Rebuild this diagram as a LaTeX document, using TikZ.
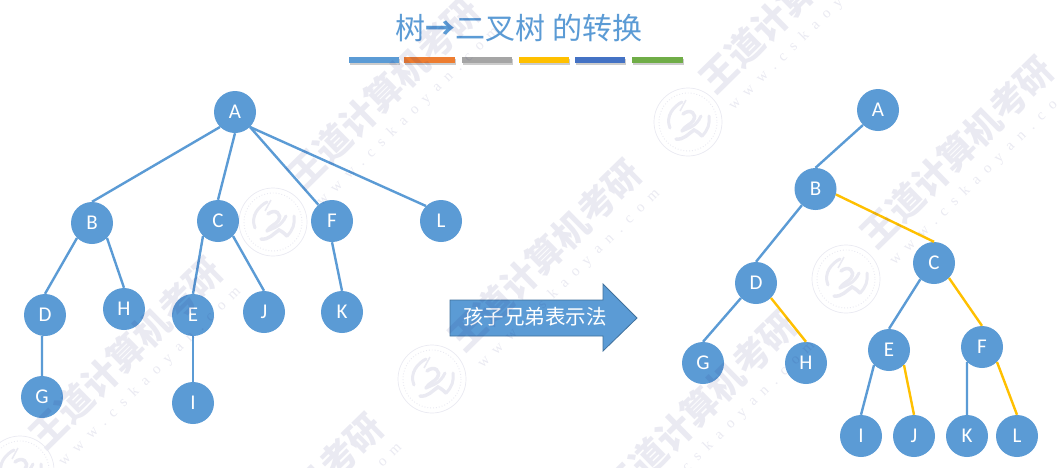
\documentclass[tikz,border=0pt]{standalone}
\usepackage{fontspec}
\setmainfont{Carlito}
\newfontfamily\cjk{Noto Sans CJK SC}
\newfontfamily\wmlat[LetterSpace=57]{Liberation Serif}
\definecolor{nodeblue}{HTML}{5B9BD5}
\definecolor{edgeorange}{HTML}{FFC000}
\definecolor{arrowline}{HTML}{41719C}
\definecolor{wmink}{RGB}{25,25,115}
\tikzset{
  vertex/.style={circle,fill=nodeblue,minimum size=42pt,inner sep=0pt,text=white,font=\fontsize{21}{24}\selectfont},
  kid/.style={draw=nodeblue,line width=2.4pt},
  sib/.style={draw=edgeorange,line width=2.4pt},
  wmband/.style={text=wmink,rotate=44.5,font=\cjk\bfseries\fontsize{36}{40}\selectfont,inner sep=0pt},
  wmurl/.style={text=wmink,rotate=44.5,font=\wmlat\fontsize{15}{17}\selectfont,inner sep=0pt},
}
\begin{document}
\begin{tikzpicture}[x=1pt,y=-1pt]
\fill[white] (0,0) rectangle (1057,467);
\useasboundingbox (0,0) rectangle (1057,467);
% title
\node[text=nodeblue,font=\cjk\fontsize{30}{34}\selectfont,inner sep=0pt] (title) at (519,28) {树{\bfseries →}二叉树 的转换};
% colour bars
\foreach \xa/\xb/\c in {349/399/5B9BD5,404/455/ED7D31,462/512/A5A5A5,519/569/FFC000,575/625/4472C4,632/683/70AD47}{
  \definecolor{barc}{HTML}{\c}
  \fill[black,opacity=.2] (\xa+1,59) rectangle (\xb+1,64.5);
  \fill[barc] (\xa,57) rectangle (\xb,62.5);
}
% left tree
\node[vertex] (A) at (235,112) {A};
\node[vertex] (B) at (92,223) {B};
\node[vertex] (C) at (218,221) {C};
\node[vertex] (F) at (332,221) {F};
\node[vertex] (L) at (441,221) {L};
\node[vertex] (D) at (45,315) {D};
\node[vertex] (H) at (124,309) {H};
\node[vertex] (E) at (193,315) {E};
\node[vertex] (J) at (264,312) {J};
\node[vertex] (K) at (342,312) {K};
\node[vertex] (G) at (42,397) {G};
\node[vertex] (I) at (193,403) {I};
\draw[kid] (A.225) -- (B.north);
\draw[kid] (A.south) -- (C.north);
\draw[kid] (A.315) -- (F.130);
\draw[kid] (A.315) -- (L.north west);
\draw[kid] (B.225) -- (D.north);
\draw[kid] (B.315) -- (H.north);
\draw[kid] (C.225) -- (E.north);
\draw[kid] (C.315) -- (J.north);
\draw[kid] (F.south) -- (K.north);
\draw[kid] (D.262) -- (G.north);
\draw[kid] (E.south) -- (I.north);
% arrow
\draw[fill=nodeblue,draw=arrowline,line width=.8pt] (450,300) -- (603,300) -- (603,284) -- (637,318) -- (603,351) -- (603,336) -- (450,336) -- cycle;
\node[text=white,font=\cjk\fontsize{20.5}{24}\selectfont,inner sep=0pt] (conv) at (535,317) {孩子兄弟表示法};
% right tree
\node[vertex] (rA) at (878,110) {A};
\node[vertex] (rB) at (815.5,189) {B};
\node[vertex] (rC) at (934,263) {C};
\node[vertex] (rD) at (756,283) {D};
\node[vertex] (rG) at (703,363) {G};
\node[vertex] (rH) at (806,363) {H};
\node[vertex] (rE) at (889,350) {E};
\node[vertex] (rF) at (982,347) {F};
\node[vertex] (rI) at (861,436) {I};
\node[vertex] (rJ) at (914,436) {J};
\node[vertex] (rK) at (967,436) {K};
\node[vertex] (rL) at (1017,436) {L};
\draw[kid] (rA.225) -- (rB.north);
\draw[kid] (rB.230) -- (rD.north);
\draw[kid] (rD.225) -- (rG.north);
\draw[kid] (rC.230) -- (rE.north);
\draw[kid] (rE.225) -- (rI.north);
\draw[kid] (rF.225) -- (rK.north);
\draw[sib] (rB.345) -- (rC.north);
\draw[sib] (rD.315) -- (rH.north);
\draw[sib] (rC.315) -- (rF.north);
\draw[sib] (rE.315) -- (rJ.north);
\draw[sib] (rF.315) -- (rL.north);
% watermark
\begin{scope}
\clip (0,0) rectangle (1057,467);
\begin{scope}[opacity=.09,transparency group]
\foreach \x/\y in {126/353,384/93,545/255,700/407,796/-3,957/152,287/509}{
  \node[wmband] at (\x,\y) {王道计算机考研};
  \node[wmurl] at (\x+24,\y+24) {www.cskaoyan.com};
}
\foreach \x/\y in {273/222,432/379,688/122,846/279,20/470}{
  \begin{scope}[shift={(\x,\y)}]
    \draw[wmink,line width=.7pt] (0,0) circle (34);
    \draw[wmink,line width=.9pt,dotted] (0,0) circle (29);
    \draw[wmink,line width=3pt,line cap=round] (-18,6) .. controls (-23,-6) and (-14,-16) .. (-6,-20);
    \draw[wmink,line width=3pt,line cap=round] (21,-6) .. controls (22,2) and (20,8) .. (14,14);
    \draw[wmink,line width=3.5pt,line cap=round] (-12,17) .. controls (-4,18) and (0,12) .. (6,8) .. controls (10,10) and (12,12) .. (14,14);
    \draw[wmink,line width=3.5pt,line cap=round] (-5,-8) .. controls (2,-14) and (10,-8) .. (5,-1) .. controls (2,3) and (-3,4) .. (-6,9);
    \draw[wmink,line width=3pt,line cap=round] (-6,9) .. controls (0,6) and (8,5) .. (13,-6);
    \draw[wmink,line width=1.5pt] (-2,-22) -- (-8,-11);
  \end{scope}
}
\end{scope}
\end{scope}
\end{tikzpicture}
\end{document}
